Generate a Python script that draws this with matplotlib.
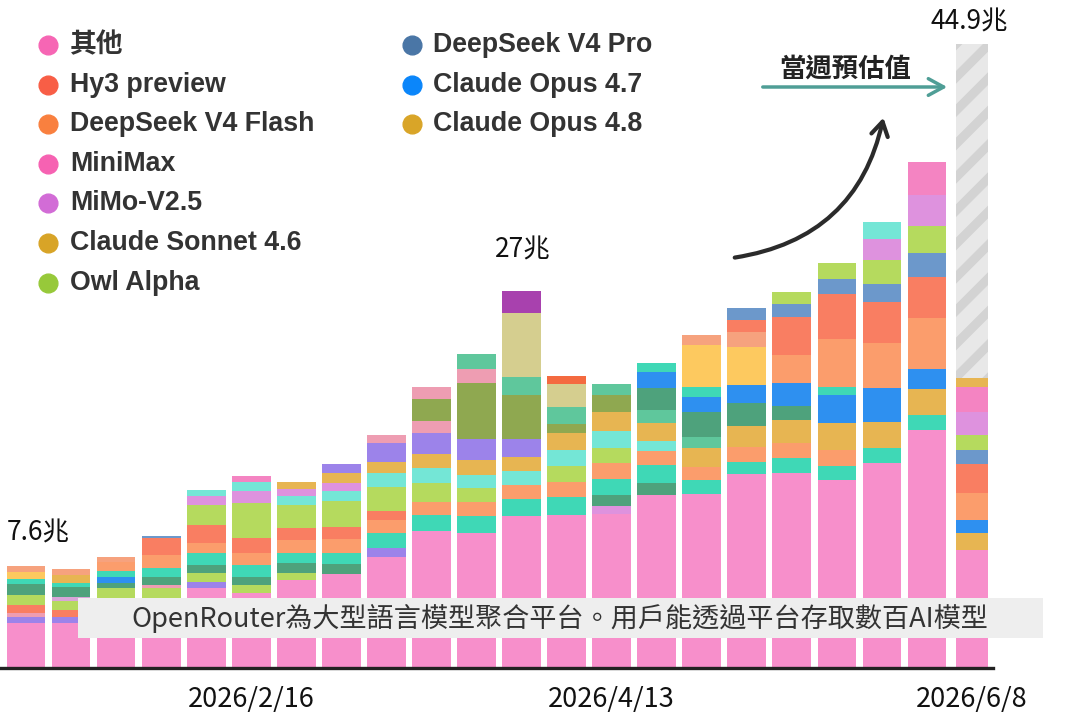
import matplotlib

matplotlib.use("Agg")
import matplotlib.pyplot as plt
from matplotlib.lines import Line2D
from matplotlib.patches import FancyArrowPatch, Rectangle

plt.rcParams["hatch.linewidth"] = 6.5

CJK = ["Noto Sans CJK TC", "DejaVu Sans"]
LATIN_BOLD = ["Liberation Sans", "Noto Sans CJK TC", "DejaVu Sans"]

# weekly token volume on OpenRouter, in 兆 (trillion) tokens, stacked bottom -> top
weeks = ["2026/1/12", "2026/1/19", "2026/1/26", "2026/2/2", "2026/2/9", "2026/2/16",
         "2026/2/23", "2026/3/2", "2026/3/9", "2026/3/16", "2026/3/23", "2026/3/30",
         "2026/4/6", "2026/4/13", "2026/4/20", "2026/4/27", "2026/5/4", "2026/5/11",
         "2026/5/18", "2026/5/25", "2026/6/1", "2026/6/8"]
shown_weeks = ["2026/2/16", "2026/4/13", "2026/6/8"]

seg_keys = [
    ["pink", "purple", "rose", "red", "lime", "dkgreen", "teal", "yellow", "salmon"],
    ["pink", "purple", "red", "lime", "lavender", "dkgreen", "teal", "gold", "salmon"],
    ["pink", "lime", "dkgreen", "blue", "teal", "orange", "salmon"],
    ["pink", "lime", "rose", "dkgreen", "teal", "orange", "red", "steel"],
    ["pink", "purple", "lime", "dkgreen", "teal", "orange", "red", "lime", "orchid", "cyan"],
    ["pink", "lime", "dkgreen", "teal", "orange", "red", "lime", "orchid", "cyan", "hotpink"],
    ["pink", "lime", "dkgreen", "teal", "orange", "red", "lime", "cyan", "orchid", "gold"],
    ["pink", "dkgreen", "teal", "orange", "red", "lime", "cyan", "orchid", "gold", "purple"],
    ["pink", "purple", "teal", "orange", "red", "lime", "cyan", "gold", "purple", "rose"],
    ["pink", "teal", "orange", "lime", "cyan", "gold", "purple", "rose", "olive", "rose"],
    ["pink", "teal", "orange", "lime", "cyan", "gold", "purple", "olive", "rose", "seagreen"],
    ["pink", "teal", "orange", "cyan", "gold", "purple", "olive", "seagreen", "khaki", "plum"],
    ["pink", "teal", "orange", "lime", "cyan", "gold", "olive", "seagreen", "khaki", "vermilion"],
    ["pink", "orchid", "dkgreen", "teal", "orange", "lime", "cyan", "gold", "olive", "seagreen"],
    ["pink", "dkgreen", "teal", "orange", "cyan", "gold", "seagreen", "dkgreen", "blue", "teal"],
    ["pink", "teal", "orange", "gold", "seagreen", "dkgreen", "blue", "teal", "yellow", "salmon"],
    ["pink", "teal", "orange", "gold", "dkgreen", "blue", "yellow", "salmon", "red", "steel"],
    ["pink", "teal", "orange", "gold", "dkgreen", "blue", "orange", "red", "steel", "lime"],
    ["pink", "teal", "orange", "gold", "blue", "teal", "orange", "red", "steel", "lime"],
    ["pink", "teal", "gold", "blue", "orange", "red", "steel", "lime", "orchid", "cyan"],
    ["pink", "teal", "gold", "blue", "orange", "red", "steel", "lime", "orchid", "hotpink"],
    ["pink", "gold", "blue", "orange", "red", "steel", "lime", "orchid", "hotpink", "gold"],
]
seg_vals = [
    [3.24, 0.43, 0.29, 0.58, 0.72, 0.79, 0.36, 0.50, 0.43],
    [3.24, 0.43, 0.50, 0.65, 0.29, 0.72, 0.29, 0.58, 0.43],
    [4.32, 1.44, 0.36, 0.43, 0.43, 0.65, 0.36],
    [4.89, 0.86, 0.22, 0.58, 0.65, 0.94, 1.22, 0.15],
    [5.76, 0.43, 0.65, 0.58, 0.86, 0.72, 1.30, 1.44, 0.65, 0.43],
    [5.40, 0.58, 0.58, 0.86, 0.86, 1.08, 2.52, 0.86, 0.65, 0.43],
    [6.33, 0.50, 0.72, 0.72, 0.94, 0.86, 1.65, 0.65, 0.50, 0.50],
    [6.76, 0.72, 0.79, 1.00, 0.86, 1.87, 0.72, 0.58, 0.72, 0.65],
    [7.99, 0.65, 1.08, 0.94, 0.65, 1.73, 1.00, 0.79, 1.37, 0.58],
    [9.86, 1.15, 0.94, 1.37, 1.08, 1.00, 1.51, 0.86, 1.58, 0.86],
    [9.71, 1.22, 1.00, 1.00, 0.94, 1.08, 1.51, 4.03, 1.00, 1.08],
    [10.94, 1.22, 1.00, 1.00, 1.00, 1.30, 3.17, 1.30, 4.60, 1.58],
    [11.01, 1.30, 1.08, 1.15, 1.15, 1.22, 0.65, 1.22, 1.65, 0.58],
    [11.08, 0.58, 0.79, 1.15, 1.15, 1.08, 1.22, 1.37, 1.22, 0.79],
    [12.45, 0.86, 1.30, 1.00, 0.72, 1.30, 0.94, 1.58, 1.15, 0.65],
    [12.52, 1.00, 0.94, 1.37, 0.79, 1.80, 1.08, 0.72, 3.02, 0.72],
    [13.96, 0.86, 1.08, 1.51, 1.65, 1.30, 2.73, 1.08, 0.86, 0.86],
    [14.03, 1.08, 1.08, 1.65, 1.00, 1.65, 2.01, 2.73, 0.94, 0.86],
    [13.53, 1.00, 1.15, 1.94, 2.01, 0.58, 3.45, 3.24, 1.08, 1.15],
    [14.75, 1.08, 1.87, 2.45, 3.24, 2.95, 1.30, 1.73, 1.51, 1.22],
    [17.12, 1.08, 1.87, 1.44, 3.67, 2.95, 1.73, 1.94, 2.23, 2.37],
    [8.49, 1.22, 0.94, 1.94, 2.09, 1.00, 1.08, 1.65, 1.80, 0.65],
]
estimate_total = 44.9  # 當週預估值 for the partial last week
value_labels = {"2026/1/12": "7.6兆", "2026/3/30": "27兆", "2026/6/8": "44.9兆"}

legend_left = ["其他", "Hy3 preview", "DeepSeek V4 Flash", "MiniMax", "MiMo-V2.5",
               "Claude Sonnet 4.6", "Owl Alpha"]
legend_left_colors = ["#F666B4", "#F85E46", "#F9803F", "#F662B2", "#D26CD6", "#D8A427", "#97C93A"]
legend_right = ["DeepSeek V4 Pro", "Claude Opus 4.7", "Claude Opus 4.8"]
legend_right_colors = ["#4A76A6", "#0B86FA", "#D9A528"]

palette = {
    "pink": "#F78FCB", "hotpink": "#F484C2", "teal": "#3FD8B6", "orange": "#FB9D6C",
    "red": "#F97E62", "salmon": "#F6A27E", "lime": "#B5DA5E", "gold": "#E7B552",
    "yellow": "#FDC95F", "cyan": "#74E6D6", "purple": "#9C83EA", "orchid": "#DE92DE",
    "rose": "#EE9DB2", "lavender": "#D8A6D8", "dkgreen": "#4EA27C", "seagreen": "#5FC79C",
    "olive": "#8FA850", "khaki": "#D5CE8F", "plum": "#A841AE", "vermilion": "#F46A40",
    "blue": "#2E90F0", "steel": "#6C98CB",
}

W, H = 1077, 718


def fx(px):
    return px / W


def fy(py):
    return 1 - py / H


fig = plt.figure(figsize=(W / 100, H / 100), dpi=100)
fig.patch.set_facecolor("white")
ax = fig.add_axes([0, fy(668), fx(993), 668 / H])

last = len(weeks) - 1
tops = []
for i, (keys, vals) in enumerate(zip(seg_keys, seg_vals)):
    width = 0.86 if i < last else 0.72
    bottom = 0.0
    for k, v in zip(keys, vals):
        ax.bar(i, v, bottom=bottom, width=width, color=palette[k], edgecolor="none", zorder=2)
        bottom += v
    tops.append(bottom)

# estimated remainder of the current week
ax.bar(last, estimate_total - tops[last], bottom=tops[last], width=0.72, color="#e8e8e8",
       edgecolor="#d3d3d3", hatch="/", linewidth=0, zorder=2)

ax.set_xlim(-26 / 45.05, (993 - 26) / 45.05)
ax.set_ylim(0, 668 / 13.9)
for s in ["top", "right", "left"]:
    ax.spines[s].set_visible(False)
ax.spines["bottom"].set_color("#222222")
ax.spines["bottom"].set_linewidth(2.4)
ax.spines["bottom"].set_zorder(3)
ax.set_yticks([])
ax.set_xticks([weeks.index(w) for w in shown_weeks])
ax.set_xticklabels(shown_weeks, family=CJK, fontsize=19.5, color="#111111")
ax.tick_params(axis="x", length=0, pad=13)
ax.set_facecolor("none")

# value labels
i0 = weeks.index("2026/1/12")
ax.annotate(value_labels["2026/1/12"], xy=(i0 - 0.43, tops[i0]), xytext=(0, 24),
            textcoords="offset points", ha="left", va="center", fontsize=19, family=CJK, color="#111111")
i1 = weeks.index("2026/3/30")
ax.annotate(value_labels["2026/3/30"], xy=(i1, tops[i1]), xytext=(1, 29.5),
            textcoords="offset points", ha="center", va="center", fontsize=19, family=CJK, color="#111111")
ax.annotate(value_labels["2026/6/8"], xy=(last, estimate_total), xytext=(-2, 16),
            textcoords="offset points", ha="center", va="center", fontsize=19, family=CJK,
            color="#111111", annotation_clip=False)

# legend (two columns)
for k, (name, c) in enumerate(zip(legend_left, legend_left_colors)):
    y = 45 + 39.6 * k
    fig.add_artist(Line2D([fx(48)], [fy(y)], marker="o", markersize=13.5, color=c, linestyle="none"))
    fig.text(fx(70), fy(y), name, ha="left", va="center", fontsize=19.3, fontweight="bold",
             family=LATIN_BOLD, color="#333333")
for k, (name, c) in enumerate(zip(legend_right, legend_right_colors)):
    y = 45 + 39.6 * k
    fig.add_artist(Line2D([fx(412)], [fy(y)], marker="o", markersize=13.5, color=c, linestyle="none"))
    fig.text(fx(433), fy(y), name, ha="left", va="center", fontsize=19.3, fontweight="bold",
             family=LATIN_BOLD, color="#333333")

# 當週預估值 pointer and growth arrow
fig.text(fx(845), fy(69), "當週預估值", ha="center", va="center", fontsize=19,
         fontweight="bold", family=CJK, color="#222222")
fig.add_artist(FancyArrowPatch((fx(760), fy(87)), (fx(950), fy(87)), transform=fig.transFigure,
                               arrowstyle="->,head_length=0.55,head_width=0.3", mutation_scale=20,
                               color="#4f9e96", lw=2.5))
fig.add_artist(FancyArrowPatch((fx(732), fy(258)), (fx(884), fy(115)), transform=fig.transFigure,
                               connectionstyle="arc3,rad=0.35",
                               arrowstyle="->,head_length=0.5,head_width=0.3", mutation_scale=20,
                               color="#2b2b2b", lw=3))

# caption band
fig.add_artist(Rectangle((fx(78), fy(638)), fx(1043) - fx(78), 40 / H, transform=fig.transFigure,
                         facecolor="#eeeeee", edgecolor="none", zorder=5))
fig.text(fx(560), fy(618), "OpenRouter為大型語言模型聚合平台。用戶能透過平台存取數百AI模型",
         ha="center", va="center", fontsize=19.5, family=CJK, color="#333333", zorder=6)

fig.savefig("out.png", dpi=100)
